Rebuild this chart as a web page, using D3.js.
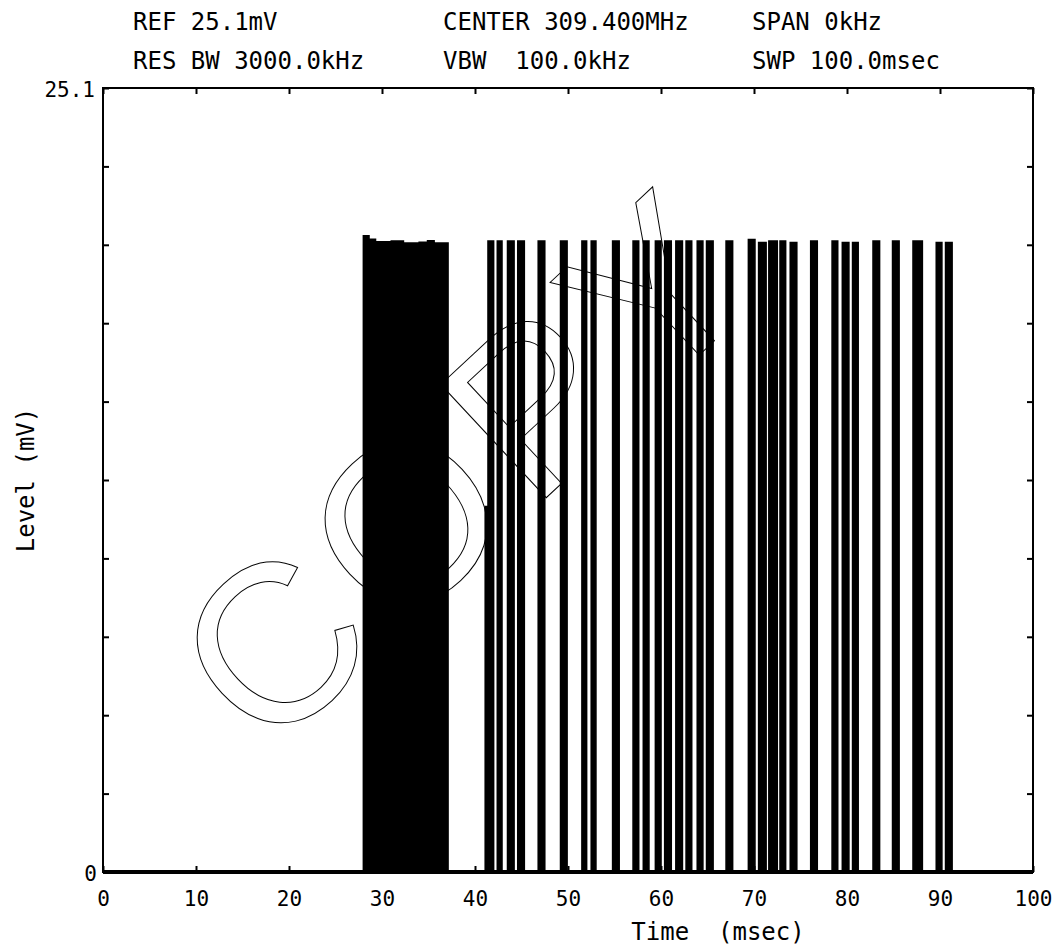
<!DOCTYPE html>
<html>
<head>
<meta charset="utf-8">
<script src="https://cdn.jsdelivr.net/npm/d3@7"></script>
<style>
  body { margin: 0; background: #fff; }
  svg { display: block; }
  .lbl { font-family: "DejaVu Sans Mono", monospace; fill: #000; white-space: pre; }
  .tick line { stroke: #000; stroke-width: 2; }
</style>
</head>
<body>
<div id="graph"></div>
<script>
// header lines of the analyzer plot
var headerRow1 = ["REF 25.1mV", "CENTER 309.400MHz", "SPAN 0kHz"];
var headerRow2 = ["RES BW 3000.0kHz", "VBW  100.0kHz", "SWP 100.0msec"];

var xTicks = [0, 10, 20, 30, 40, 50, 60, 70, 80, 90, 100];
var yLabels = [0, 25.1];

// dense burst block, top level read along its length (msec, mV)
var blockTime = [28.0, 28.6, 29.3, 31.0, 32.3, 34.0, 34.9, 35.6];
var blockLevel = [20.37, 20.26, 20.18, 20.2, 20.14, 20.16, 20.21, 20.14];
var blockEnd = 37.1;

// individual pulses (msec start / end, mV top)
var pulseStart = [41.1, 41.4, 42.4, 43.5, 44.6, 46.8, 49.2, 51.5, 52.5, 54.8, 57.0, 58.1, 59.4, 60.4, 61.6, 62.7, 63.9,
                  64.9, 67.0, 69.4, 70.5, 71.6, 72.8, 73.9, 76.1, 78.4, 79.5, 80.6, 82.8, 84.9, 87.1, 89.6, 90.6];
var pulseEnd   = [41.4, 42.0, 42.9, 44.2, 45.3, 47.5, 49.9, 52.0, 53.0, 55.5, 57.6, 58.7, 60.0, 61.1, 62.3, 63.3, 64.5,
                  65.6, 67.7, 70.1, 71.3, 72.5, 73.4, 74.6, 76.8, 79.0, 80.2, 81.2, 83.5, 85.6, 88.1, 90.2, 91.3];
var pulseLevel = [11.7, 20.2, 20.2, 20.2, 20.2, 20.2, 20.2, 20.2, 20.2, 20.2, 20.2, 20.2, 20.2, 20.2, 20.2, 20.2, 20.2,
                  20.2, 20.2, 20.25, 20.15, 20.2, 20.2, 20.15, 20.2, 20.2, 20.15, 20.15, 20.2, 20.2, 20.2, 20.15, 20.15];

var width = 1062, height = 949;
var plot = { left: 103, right: 1033, top: 88, bottom: 872 };

var svg = d3.select("#graph").append("svg")
    .attr("width", width)
    .attr("height", height);

var x = d3.scaleLinear().domain([0, 100]).range([plot.left, plot.right]);
var y = d3.scaleLinear().domain([0, 25.1]).range([plot.bottom, plot.top]);

// header text
var colX = [133, 443, 752];
svg.selectAll(".h1").data(headerRow1).enter().append("text")
    .attr("class", "lbl")
    .attr("x", function (d, i) { return colX[i]; })
    .attr("y", 30)
    .style("font-size", "24px")
    .text(function (d) { return d; });
svg.selectAll(".h2").data(headerRow2).enter().append("text")
    .attr("class", "lbl")
    .attr("x", function (d, i) { return colX[i]; })
    .attr("y", 69)
    .style("font-size", "24px")
    .text(function (d) { return d; });

// watermark
svg.append("text")
    .attr("transform", "translate(466,466) rotate(-43)")
    .attr("text-anchor", "middle")
    .attr("dominant-baseline", "central")
    .style("font-family", "'Liberation Sans', sans-serif")
    .style("font-size", "225px")
    .style("letter-spacing", "13px")
    .style("fill", "none")
    .style("stroke", "#000")
    .style("stroke-width", 1)
    .text("COPY");

// trace
var pts = [{ t: 0, v: 0 }];
blockTime.forEach(function (t, i) { pts.push({ t: t, v: blockLevel[i] }); });
pts.push({ t: blockEnd, v: 0 });
pulseStart.forEach(function (s, i) {
    pts.push({ t: s, v: pulseLevel[i] });
    pts.push({ t: pulseEnd[i], v: 0 });
});
pts.push({ t: 100, v: 0 });

var area = d3.area()
    .x(function (d) { return x(d.t); })
    .y0(y(0))
    .y1(function (d) { return y(d.v); })
    .curve(d3.curveStepAfter);

svg.append("path")
    .datum(pts)
    .attr("d", area)
    .attr("fill", "#000")
    .attr("stroke", "#000")
    .attr("stroke-width", 1.6);

// baseline of the trace
svg.append("line")
    .attr("x1", x(0)).attr("x2", x(100))
    .attr("y1", y(0)).attr("y2", y(0))
    .attr("stroke", "#000").attr("stroke-width", 4);

// axes with inward ticks
var yTickVals = d3.range(0, 11).map(function (i) { return i * 2.51; });

svg.append("g")
    .attr("transform", "translate(0," + plot.bottom + ")")
    .call(d3.axisBottom(x).tickValues(xTicks).tickSize(-6).tickPadding(19))
    .call(function (g) { g.select(".domain").remove(); })
    .call(function (g) {
        g.selectAll("text").attr("class", "lbl").style("font-size", "21px");
    });

svg.append("g")
    .attr("transform", "translate(0," + plot.top + ")")
    .call(d3.axisTop(x).tickValues(xTicks).tickSize(-6).tickFormat(""))
    .call(function (g) { g.select(".domain").remove(); });

svg.append("g")
    .attr("transform", "translate(" + plot.left + ",0)")
    .call(d3.axisLeft(y).tickValues(yTickVals).tickSize(-6).tickFormat(""))
    .call(function (g) { g.select(".domain").remove(); });

svg.append("g")
    .attr("transform", "translate(" + plot.right + ",0)")
    .call(d3.axisRight(y).tickValues(yTickVals).tickSize(-6).tickFormat(""))
    .call(function (g) { g.select(".domain").remove(); });

svg.selectAll(".ylab").data(yLabels).enter().append("text")
    .attr("class", "lbl")
    .attr("x", function (d) { return d === 0 ? 97 : 95; })
    .attr("y", function (d) { return y(d) + 9; })
    .attr("text-anchor", "end")
    .style("font-size", "21px")
    .text(function (d) { return d; });

// frame
svg.append("rect")
    .attr("x", plot.left).attr("y", plot.top)
    .attr("width", plot.right - plot.left)
    .attr("height", plot.bottom - plot.top)
    .attr("fill", "none")
    .attr("stroke", "#000")
    .attr("stroke-width", 2);

// axis titles
svg.append("text")
    .attr("class", "lbl")
    .attr("x", 718).attr("y", 940)
    .attr("text-anchor", "middle")
    .style("font-size", "24px")
    .text("Time  (msec)");

svg.append("text")
    .attr("class", "lbl")
    .attr("transform", "translate(34,480) rotate(-90)")
    .attr("text-anchor", "middle")
    .style("font-size", "24px")
    .text("Level (mV)");
</script>
</body>
</html>
